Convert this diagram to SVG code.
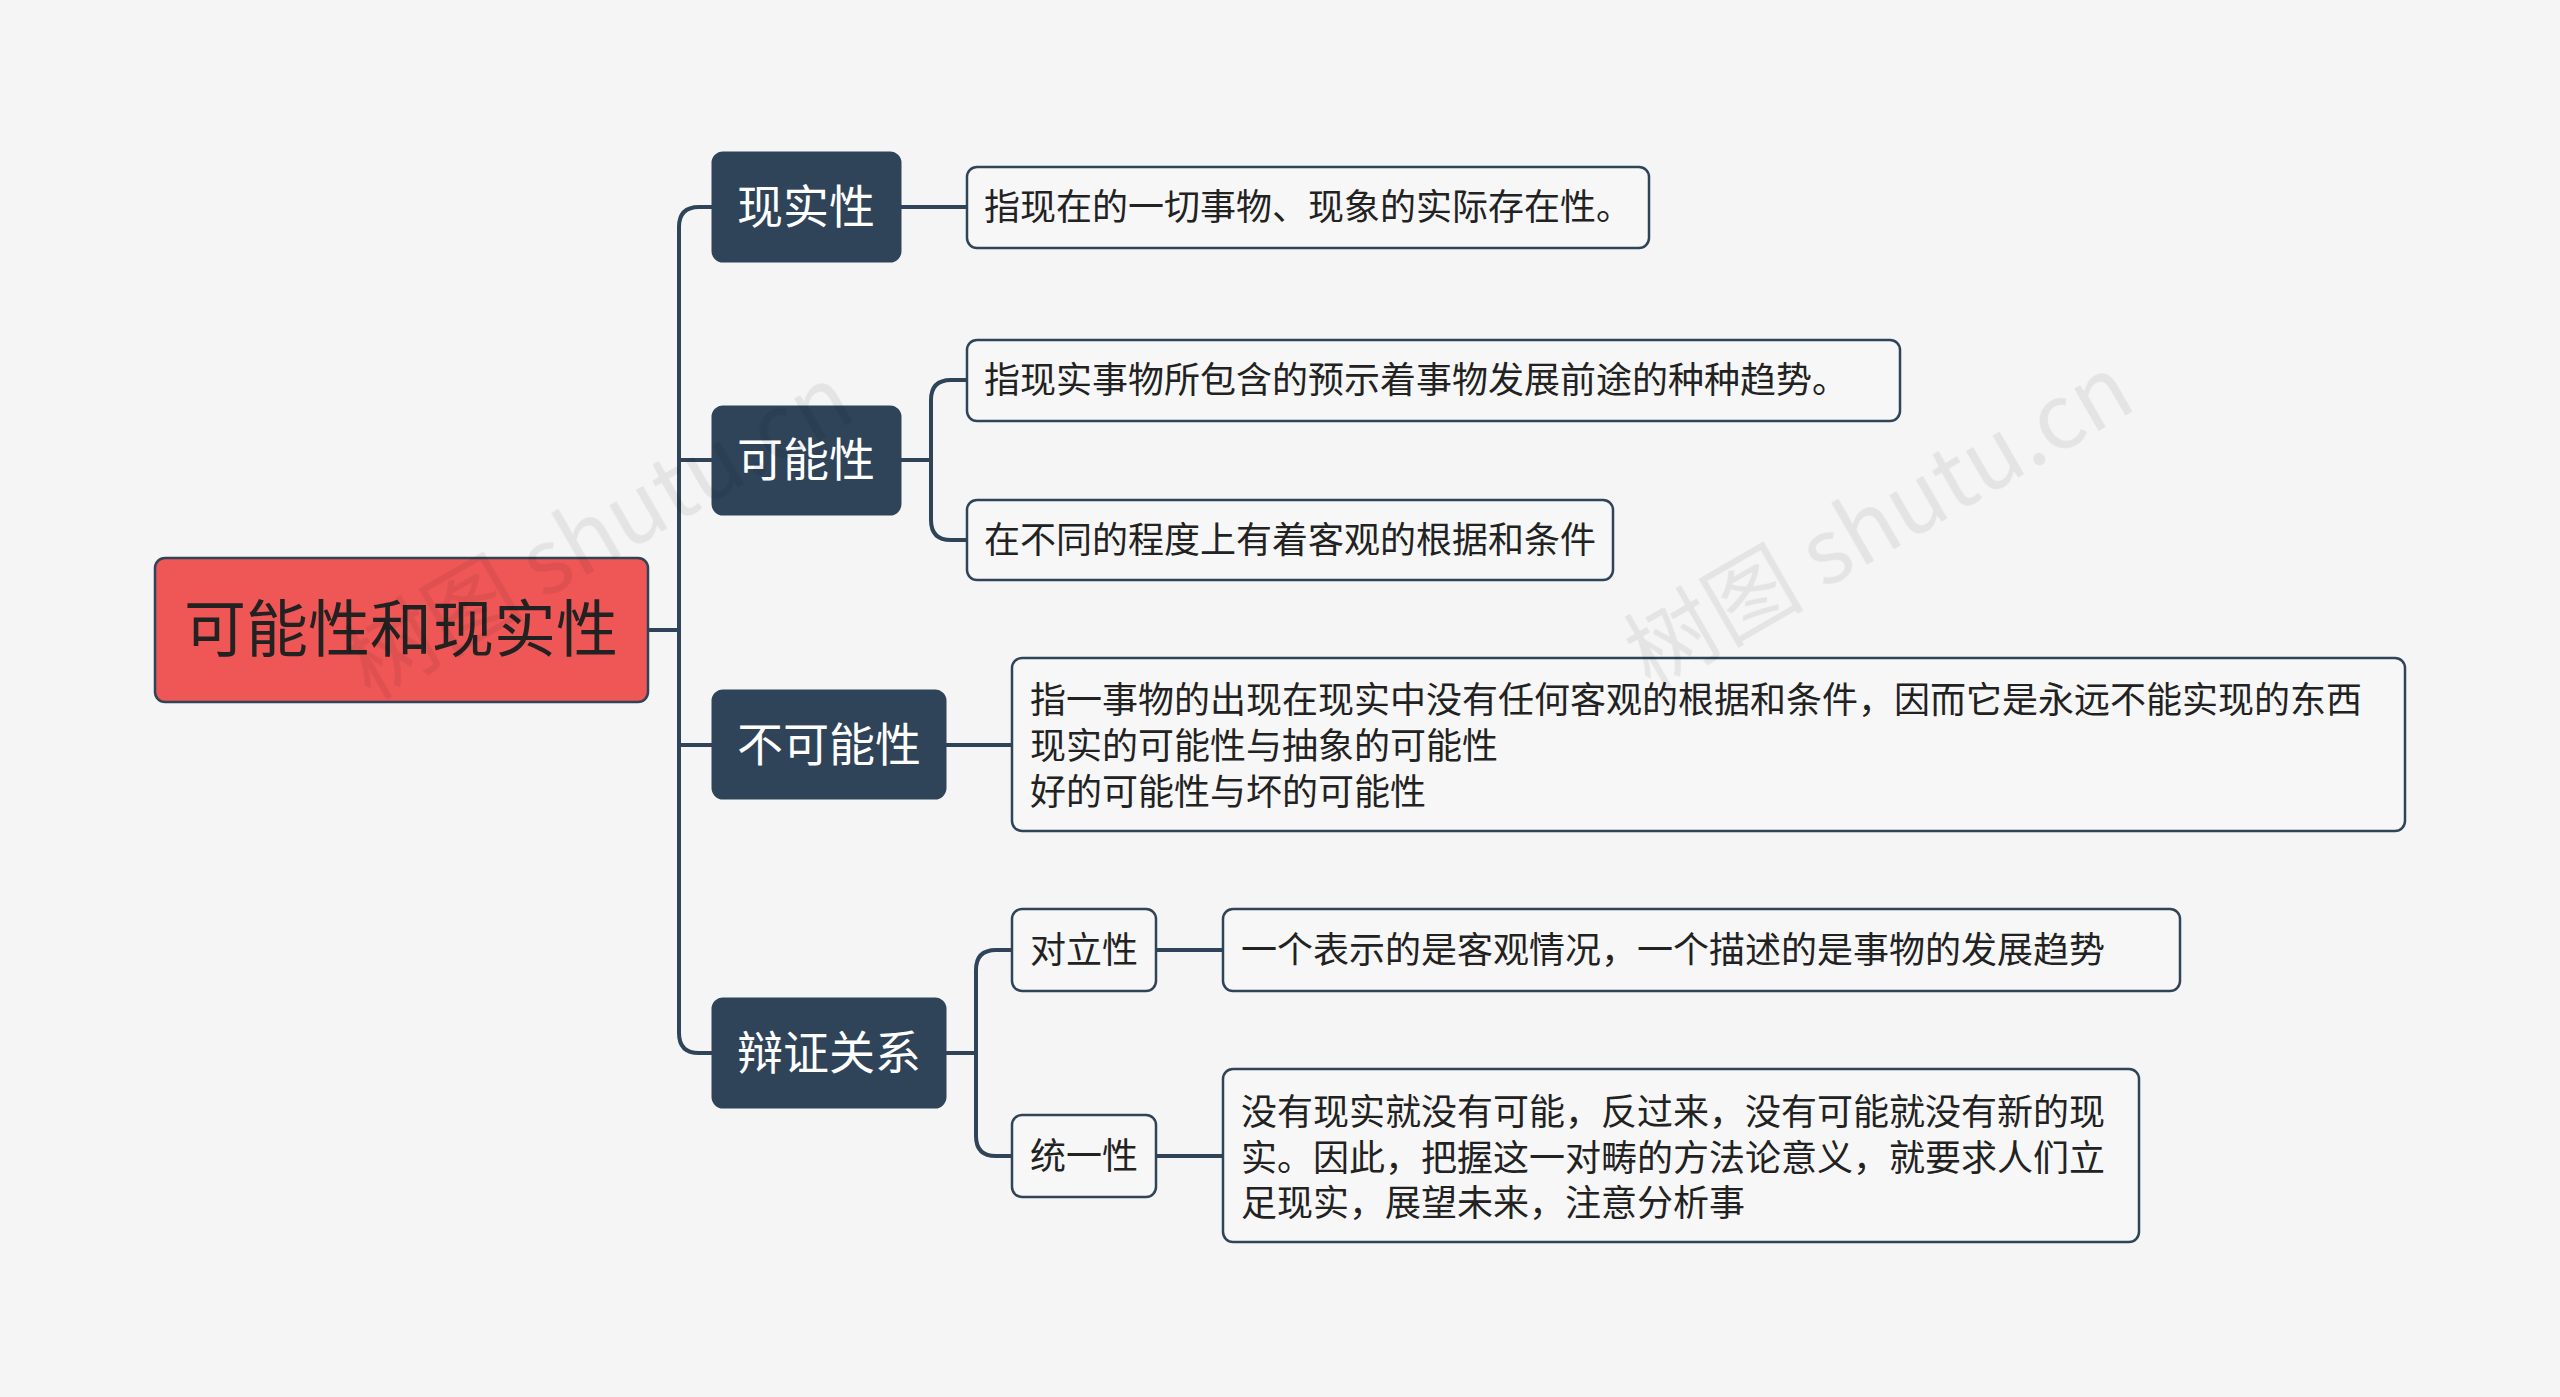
<svg xmlns="http://www.w3.org/2000/svg" width="2560" height="1397" viewBox="0 0 2560 1397">
<style>
text{font-family:"Noto Sans CJK SC","Noto Sans",sans-serif}
.l1 rect{fill:#2f4459;stroke:#2f4459;stroke-width:3}
.l1 text{fill:#fff;font-size:46px}
.lf rect{fill:#f7f7f7;stroke:#2f4459;stroke-width:2.5}
.lf text{fill:#222;font-size:36px}
.c path{fill:none;stroke:#2f4459;stroke-width:4}
.wm{fill:#000;opacity:0.07;font-size:90px;font-family:"Liberation Serif","Noto Sans CJK SC",serif}
</style>
<rect width="2560" height="1397" fill="#f5f5f5"/>
<g class="c">
<path d="M648 630H679"/>
<path d="M713 207H699Q679 207 679 227V1033Q679 1053 699 1053H713"/>
<path d="M679 460H713M679 745H713"/>
<path d="M900 207H967"/>
<path d="M900 460H931M967 380H951Q931 380 931 400V520Q931 540 951 540H967"/>
<path d="M945 745H1012"/>
<path d="M945 1053H976M1012 950H996Q976 950 976 970V1136Q976 1156 996 1156H1012"/>
<path d="M1156 950H1223M1156 1156H1223"/>
</g>
<g id="root"><rect x="155" y="558" width="493" height="144" rx="10" fill="#ef5656" stroke="#2f4459" stroke-width="2.5"/><text x="401" y="652" font-size="62" text-anchor="middle" fill="#222">可能性和现实性</text></g>
<g id="n1" class="l1"><rect x="713" y="153" width="187" height="108" rx="10"/><text x="806" y="223" text-anchor="middle">现实性</text></g>
<g id="n2" class="l1"><rect x="713" y="407" width="187" height="107" rx="10"/><text x="806" y="476" text-anchor="middle">可能性</text></g>
<g id="n3" class="l1"><rect x="713" y="691" width="232" height="107" rx="10"/><text x="829" y="761" text-anchor="middle">不可能性</text></g>
<g id="n4" class="l1"><rect x="713" y="999" width="232" height="108" rx="10"/><text x="829" y="1069" text-anchor="middle">辩证关系</text></g>
<g id="t1" class="lf"><rect x="967" y="167" width="682" height="81" rx="10"/><text x="984" y="220">指现在的一切事物、现象的实际存在性。</text></g>
<g id="t2a" class="lf"><rect x="967" y="340" width="933" height="81" rx="10"/><text x="984" y="393">指现实事物所包含的预示着事物发展前途的种种趋势。</text></g>
<g id="t2b" class="lf"><rect x="967" y="500" width="646" height="80" rx="10"/><text x="984" y="553">在不同的程度上有着客观的根据和条件</text></g>
<g id="t3" class="lf"><rect x="1012" y="658" width="1393" height="173" rx="10"/><text x="1030" y="713">指一事物的出现在现实中没有任何客观的根据和条件，因而它是永远不能实现的东西</text><text x="1030" y="759">现实的可能性与抽象的可能性</text><text x="1030" y="805">好的可能性与坏的可能性</text></g>
<g id="d1" class="lf"><rect x="1012" y="909" width="144" height="82" rx="10"/><text x="1030" y="963">对立性</text></g>
<g id="d2" class="lf"><rect x="1012" y="1115" width="144" height="82" rx="10"/><text x="1030" y="1169">统一性</text></g>
<g id="t4a" class="lf"><rect x="1223" y="909" width="957" height="82" rx="10"/><text x="1241" y="963">一个表示的是客观情况，一个描述的是事物的发展趋势</text></g>
<g id="t4b" class="lf"><rect x="1223" y="1069" width="916" height="173" rx="10"/><text x="1241" y="1125">没有现实就没有可能，反过来，没有可能就没有新的现</text><text x="1241" y="1171">实。因此，把握这一对畴的方法论意义，就要求人们立</text><text x="1241" y="1216">足现实，展望未来，注意分析事</text></g>
<g class="wm">
<text transform="translate(370,700) rotate(-30)">树图 shutu.cn</text>
<text transform="translate(1650,690) rotate(-30)">树图 shutu.cn</text>
</g>
</svg>
